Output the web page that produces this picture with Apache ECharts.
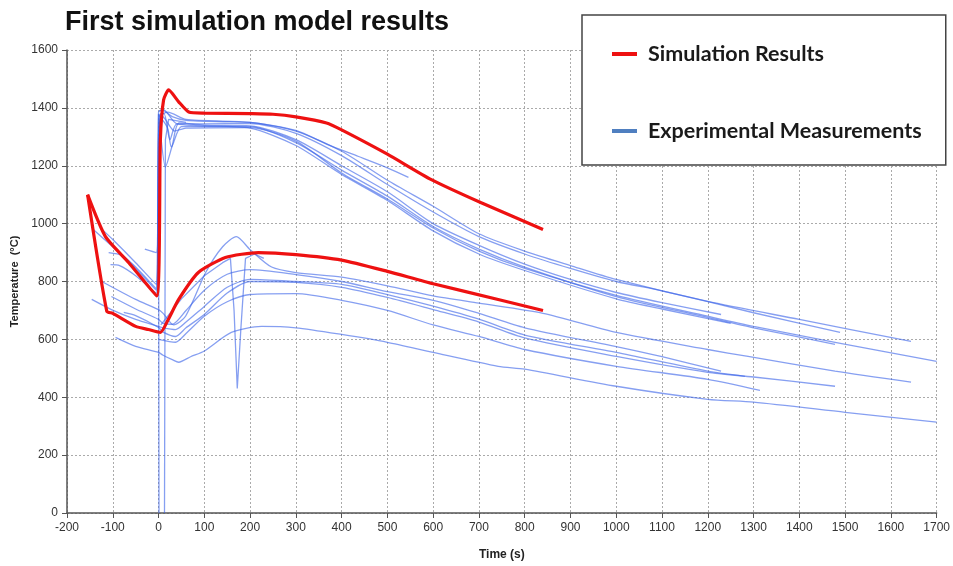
<!DOCTYPE html>
<html>
<head>
<meta charset="utf-8">
<script src="https://cdn.jsdelivr.net/npm/echarts@6/dist/echarts.min.js"></script>
<style>
  html, body { margin: 0; padding: 0; background: #fff; }
  #chart { width: 953px; height: 566px; }
</style>
</head>
<body>
<div id="chart"></div>
<script>
// axis ticks
var xTicks = [-200, 1700, 100];
var yTicks = [0, 1600, 200];

// simulation results (red), [time s, temperature C]
var simUpper = [[-155,1100],[-116,955],[-65,865],[-4,750],[4,1290],[11,1427],[22,1462],[44,1421],[66,1386],[100,1382],[200,1380],[250,1378],[300,1369],[367,1348],[400,1324],[500,1240],[596,1152],[705,1072],[840,980]];
var simLower = [[-155,1100],[-113,697],[-100,690],[-50,645],[-22,634],[4,624],[20,665],[44,738],[87,831],[146,883],[218,900],[300,893],[400,874],[500,835],[600,792],[742,738],[840,700]];

// experimental measurements (blue) - upper family
var expA = [[-142,979],[-100,920],[-50,850],[-5,775],[0,1385],[8,1392],[30,1370],[60,1357],[150,1352],[200,1350],[300,1320],[400,1250],[500,1150],[600,1060],[700,965],[800,905],[900,855],[1000,807],[1200,731],[1400,669],[1644,593]];
var expB = [[-120,975],[-100,945],[-50,865],[-5,790],[2,1375],[12,1380],[25,1290],[40,1345],[100,1345],[200,1346],[300,1312],[400,1235],[500,1135],[600,1040],[700,955],[800,895],[900,845],[1000,800],[1100,768],[1300,692],[1489,624]];
var expC = [[-109,900],[-80,890],[-50,845],[-5,770],[1,1360],[15,1195],[30,1270],[45,1348],[100,1340],[200,1338],[300,1290],[400,1200],[500,1110],[600,1000],[700,925],[800,860],[900,807],[1000,762],[1100,727],[1229,686]];
var expD = [[-105,858],[-85,855],[-50,820],[-5,760],[3,1370],[20,1330],[28,1265],[50,1335],[100,1335],[200,1335],[300,1280],[400,1185],[500,1095],[600,990],[700,912],[800,850],[1000,748],[1200,676],[1300,640],[1478,583]];
var expE = [[-30,912],[-5,900],[4,1380],[15,1360],[35,1320],[60,1330],[200,1332],[300,1285],[400,1175],[500,1085],[600,985],[700,905],[800,845],[1000,752],[1200,680],[1300,645],[1478,590],[1700,524]];
var expF = [[1,1390],[10,1395],[40,1345],[200,1330],[300,1270],[400,1170],[500,1080],[600,975],[700,895],[800,838],[1000,740],[1100,705],[1250,655]];
var expU = [[0,1370],[20,1385],[60,1360],[200,1350],[300,1322],[371,1272],[437,1232],[500,1193],[546,1160]];
// thermocouple drop-outs
var expV1 = [[-3,765],[0,1380],[1,0]];
var expV2 = [[13,0],[15,1290],[22,1360],[60,1350]];

// experimental measurements (blue) - lower family
var expG = [[-124,800],[-50,738],[0,703],[10,690],[33,650],[59,680],[103,831],[140,920],[170,955],[200,910],[247,850],[300,831],[400,815],[500,785],[600,750],[700,725],[840,690],[1000,624],[1200,565],[1288,541],[1478,490],[1644,452]];
var expH = [[-103,748],[-50,705],[0,669],[10,655],[30,652],[60,700],[100,770],[150,825],[200,841],[300,824],[400,800],[500,765],[600,735],[700,690],[800,640],[1000,575],[1100,540],[1229,490]];
var expI = [[-146,738],[-103,703],[-50,669],[0,645],[10,640],[37,634],[60,660],[100,714],[150,780],[200,807],[300,800],[400,790],[500,755],[600,715],[700,670],[800,615],[1000,555],[1200,490],[1281,472]];
var expJ = [[-76,693],[-50,682],[0,641],[10,625],[37,610],[60,640],[100,686],[150,760],[200,800],[300,797],[400,780],[500,745],[600,703],[700,660],[800,605],[1000,541],[1200,486],[1300,470],[1478,438]];
var expM = [[0,600],[37,590],[60,620],[100,680],[150,730],[200,755],[300,758],[400,735],[500,700],[600,650],[700,610],[800,565],[1000,507],[1200,462],[1314,424]];
var expK = [[-94,607],[-50,576],[0,555],[10,545],[30,530],[44,521],[70,540],[100,560],[159,624],[225,645],[300,640],[400,617],[500,590],[600,555],[742,507],[800,497],[1000,438],[1200,393],[1300,383],[1500,348],[1700,314]];
var expS = [[5,650],[20,680],[50,740],[100,820],[140,865],[157,880],[165,700],[172,430],[180,640],[190,880],[210,895],[230,880]];

var simSets = [simUpper, simLower];
var expSets = [
  {d: expA}, {d: expB}, {d: expC}, {d: expD}, {d: expE}, {d: expF}, {d: expU},
  {d: expV1, sharp: true}, {d: expV2, sharp: true},
  {d: expG}, {d: expH}, {d: expI}, {d: expJ}, {d: expM}, {d: expK}, {d: expS, sharp: true}
];

var SIM = 'Simulation Results';
var EXP = 'Experimental Measurements';
var blue = 'rgba(60,100,232,0.62)';
var red = '#ee1111';

var chart = echarts.init(document.getElementById('chart'));

var series = [];
expSets.forEach(function (s) {
  series.push({
    name: EXP,
    type: 'line',
    data: s.d,
    showSymbol: false,
    smooth: s.sharp ? false : 0.25,
    lineStyle: { color: blue, width: 1.3 },
    itemStyle: { color: blue },
    z: 2
  });
});
simSets.forEach(function (d) {
  series.push({
    name: SIM,
    type: 'line',
    data: d,
    showSymbol: false,
    smooth: 0.2,
    lineStyle: { color: red, width: 3.2 },
    itemStyle: { color: red },
    z: 3
  });
});

// plain numbers, no thousands separator
function plain(v) { return String(v); }
var labelFont = { color: '#333', fontSize: 12, fontFamily: 'Liberation Sans Narrow, Arial, sans-serif', formatter: plain };
var gridLine = { show: true, lineStyle: { color: '#aaa', type: [2, 2], width: 1 } };

var option = {
  backgroundColor: '#fff',
  animation: false,
  title: {
    text: 'First simulation model results',
    left: 60,
    top: 4,
    textStyle: { fontSize: 27, fontWeight: 'bold', color: '#111', fontFamily: 'Liberation Sans, Arial, sans-serif' }
  },
  legend: {
    orient: 'vertical',
    left: 582,
    top: 15,
    padding: [28, 24, 23, 30],
    itemGap: 55,
    itemWidth: 25,
    itemHeight: 4,
    icon: 'rect',
    backgroundColor: '#fff',
    borderColor: '#444',
    borderWidth: 1.5,
    z: 10,
    data: [
      { name: SIM, itemStyle: { color: red } },
      { name: EXP, itemStyle: { color: '#4f7fc0' } }
    ],
    textStyle: { fontSize: 21.5, fontWeight: 'bold', color: '#1a1a1a', fontFamily: 'Lato, sans-serif', padding: [0, 0, 0, 6] }
  },
  grid: { left: 67, right: 16, top: 50, bottom: 52 },
  xAxis: {
    type: 'value',
    min: xTicks[0],
    max: xTicks[1],
    interval: xTicks[2],
    name: 'Time (s)',
    nameLocation: 'middle',
    nameGap: 36,
    nameTextStyle: { fontSize: 12, fontWeight: 'bold', color: '#222', fontFamily: 'Liberation Sans Narrow, Arial, sans-serif' },
    axisLine: { onZero: false, lineStyle: { color: '#555', width: 1.5 } },
    axisTick: { show: true, length: 5, lineStyle: { color: '#555' } },
    axisLabel: Object.assign({ margin: 9 }, labelFont),
    splitLine: gridLine
  },
  yAxis: {
    type: 'value',
    min: yTicks[0],
    max: yTicks[1],
    interval: yTicks[2],
    name: 'Temperature  (°C)',
    nameLocation: 'middle',
    nameGap: 46,
    nameTextStyle: { fontSize: 11, fontWeight: 'bold', color: '#222', fontFamily: 'Liberation Sans, Arial, sans-serif' },
    axisLine: { show: true, onZero: false, lineStyle: { color: '#555', width: 1.5 } },
    axisTick: { show: true, length: 5, lineStyle: { color: '#555' } },
    axisLabel: Object.assign({ margin: 9 }, labelFont),
    splitLine: gridLine
  },
  series: series
};

chart.setOption(option);
</script>
</body>
</html>
